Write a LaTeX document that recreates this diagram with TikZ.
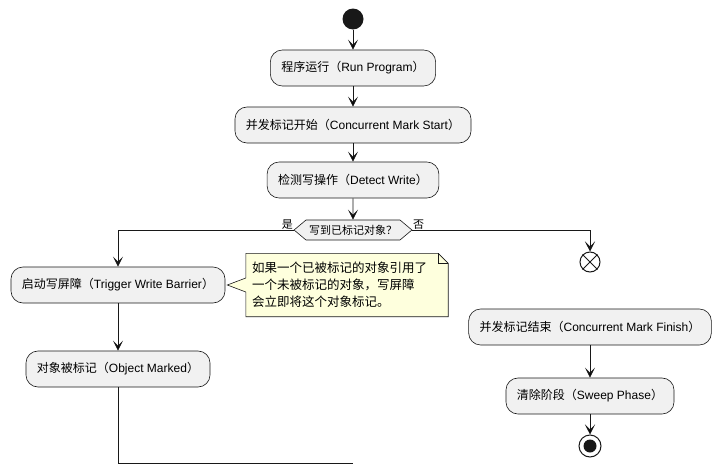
\documentclass[tikz,border=0pt]{standalone}
\usepackage{fontspec}
\setmainfont{Liberation Sans}
\newfontfamily\cjk{Noto Sans CJK SC}
\usetikzlibrary{positioning,arrows.meta,shapes.symbols,backgrounds}
\definecolor{actfill}{HTML}{F1F1F1}
\definecolor{actline}{HTML}{181818}
\definecolor{notefill}{HTML}{FEFFDD}
\newcommand{\zh}[1]{{\cjk #1}}

\begin{document}
\begin{tikzpicture}[node distance=50pt,on grid,
  font=\fontsize{12pt}{14pt}\selectfont,
  act/.style={draw=actline,fill=actfill,rounded corners=12pt,minimum height=36pt,
    inner xsep=11pt,line width=0.6pt},
  decis/.style={signal,signal to=west and east,signal pointer angle=80,draw=actline,
    fill=actfill,minimum height=20pt,inner xsep=3pt,inner ysep=1pt,line width=0.6pt,
    font=\fontsize{11pt}{13pt}\selectfont},
  lbl/.style={inner sep=0.5pt,font=\fontsize{11pt}{13pt}\selectfont},
  flow/.style={draw=actline,line width=0.8pt,-{Stealth[length=10pt,width=10pt,inset=5pt]}},
  wire/.style={draw=actline,line width=0.8pt},
  notetext/.style={text width=190pt,inner xsep=6pt,minimum height=63pt,align=left,
    font=\fontsize{12.5pt}{17pt}\selectfont}]

   \useasboundingbox (0,0) rectangle (721pt,-474pt);

   \node[circle,fill=actline,minimum size=21pt,inner sep=0pt] (start) at (353pt,-19pt) {};
   \node[act] (run)    [below=49pt of start]  {\zh{程序运行（}Run Program\zh{）}};
   \node[act] (mstart) [below=57pt of run]    {\zh{并发标记开始（}Concurrent Mark Start\zh{）}};
   \node[act] (detect) [below=55pt of mstart] {\zh{检测写操作（}Detect Write\zh{）}};
   \node[decis] (dec)  [below=50pt of detect] {\zh{写到已标记对象？}};
   \node[lbl,anchor=south east] (yes) at (dec.west) {\zh{是}};
   \node[lbl,anchor=south west] (no)  at (dec.east) {\zh{否}};

   % branch yes
   \node[act] (trig) [below left=55pt and 235pt of dec] {\zh{启动写屏障（}Trigger Write Barrier\zh{）}};
   \node[act] (objm) [below=84pt of trig] {\zh{对象被标记（}Object Marked\zh{）}};
   \node[notetext] (note) [right=229pt of trig]
     {\zh{如果一个已被标记的对象引用了}\\\zh{一个未被标记的对象，写屏障}\\\zh{会立即将这个对象标记。}};
   \coordinate[below=94pt of objm] (mrg);
   \coordinate[right=235pt of mrg] (tail);

   % branch no
   \node[circle,draw=actline,fill=white,line width=1pt,minimum size=20pt,inner sep=0pt]
     (xend) [below right=32pt and 237pt of dec] {};
   \node[act] (mfinish) [below=65pt of xend]    {\zh{并发标记结束（}Concurrent Mark Finish\zh{）}};
   \node[act] (sweep)   [below=69pt of mfinish] {\zh{清除阶段（}Sweep Phase\zh{）}};
   \node[circle,draw=actline,fill=white,line width=1pt,minimum size=22pt,inner sep=0pt,
     path picture={\fill[actline] (path picture bounding box.center) circle (6.5pt);}]
     (stop) [below=50pt of sweep] {};

   \draw[wire,line width=1pt] (xend.north west) -- (xend.south east)
                              (xend.north east) -- (xend.south west);

   % note with folded corner
   \begin{scope}[on background layer]
     \draw[draw=actline,fill=notefill,line width=0.6pt] (note.north west)
       -- ([xshift=-10pt]note.north east) -- ([yshift=-10pt]note.north east)
       -- (note.south east) -- (note.south west) -- ([yshift=-7pt]note.west)
       -- ([xshift=2pt]trig.east) -- ([yshift=7pt]note.west) -- cycle;
     \draw[draw=actline,line width=0.6pt] ([xshift=-10pt]note.north east)
       -- ++(0,-10pt) -- ([yshift=-10pt]note.north east);
   \end{scope}

   \path[flow] (start) edge (run)
               (run) edge (mstart)
               (mstart) edge (detect)
               (detect) edge (dec)
               (trig) edge (objm)
               (mfinish) edge (sweep)
               (sweep) edge (stop);
   \draw[flow] (dec.west) -| (trig);
   \draw[flow] (dec.east) -| (xend);
   \draw[wire] (objm) -- (mrg) -- (tail);

\end{tikzpicture}
\end{document}
